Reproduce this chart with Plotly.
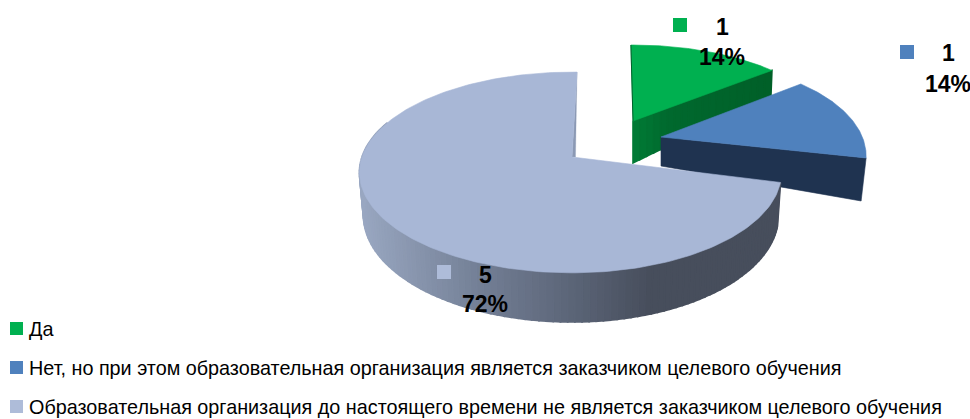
import math
import plotly.graph_objects as go

categories = ["Да",
              "Нет, но при этом образовательная организация является заказчиком целевого обучения",
              "Образовательная организация до настоящего времени не является заказчиком целевого обучения"]
values = [1, 1, 5]
percent_labels = ["14%", "14%", "72%"]

top_colors = ["#00b050", "#4f81bd", "#a8b7d6"]
FONT = "Liberation Sans, Arial, sans-serif"

# Projection of each slice's disc: apex, radii, perspective, rotation, shear
top_proj = [
    dict(ax=633, ay=121, R=197, S=87.7, k=0.154, rot=-0.7, sh=0),
    dict(ax=661, ay=137, R=199.5, S=95, k=0.233, rot=1.6, sh=-4.1),
    dict(ax=572, ay=157, R=210, Rr=207, S=98, k=0.154, rot=1.6, sh=0),
]
big_bottom = dict(ax=572, ay=199, R=206, Rr=204, S=104, k=0.154, rot=1.6, sh=0)

total = sum(values)
spans = [v / total * 360 for v in values]
starts = [sum(spans[:i]) for i in range(3)]


def project(p, theta, r=1.0):
    t = math.radians(theta + p["rot"])
    X, Y = r * math.sin(t), r * math.cos(t)
    d = 1 + p["k"] * Y
    R = p.get("Rr", p["R"]) if X > 0 else p["R"]
    return p["ax"] + R * X / d, p["ay"] - p["S"] * Y / d + p["sh"] * X / d


def arc(p, a, b, n=80):
    return [project(p, a + (b - a) * i / n) for i in range(n + 1)]


def poly(fig, pts, color, name, line=0.6):
    fig.add_trace(go.Scatter(
        x=[q[0] for q in pts] + [pts[0][0]],
        y=[q[1] for q in pts] + [pts[0][1]],
        mode="lines", fill="toself", fillcolor=color,
        line=dict(color=color, width=line),
        name=name, hoverinfo="name", showlegend=False))


def mix(stops, x):
    if x <= stops[0][0]:
        return stops[0][1]
    for (x0, c0), (x1, c1) in zip(stops, stops[1:]):
        if x <= x1:
            f = (x - x0) / (x1 - x0)
            rgb = [round(int(c0[i:i+2], 16) * (1 - f) + int(c1[i:i+2], 16) * f) for i in (1, 3, 5)]
            return "rgb(%d,%d,%d)" % tuple(rgb)
    return stops[-1][1]


fig = go.Figure()

# --- green slice ---
p = top_proj[0]
apex = (p["ax"], p["ay"])
tip = project(p, starts[0] + spans[0])
green_stops = [(633, "#007a35"), (665, "#00692e"), (772, "#005f28")]
ap_b, tip_b = (apex[0], apex[1] + 42), (tip[0] - 1, tip[1] + 25)
N = 20
for i in range(N):
    f0, f1 = i / N, (i + 1) / N
    a0 = (apex[0] + (tip[0] - apex[0]) * f0, apex[1] + (tip[1] - apex[1]) * f0)
    a1 = (apex[0] + (tip[0] - apex[0]) * f1, apex[1] + (tip[1] - apex[1]) * f1)
    b0 = (ap_b[0] + (tip_b[0] - ap_b[0]) * f0, ap_b[1] + (tip_b[1] - ap_b[1]) * f0)
    b1 = (ap_b[0] + (tip_b[0] - ap_b[0]) * f1, ap_b[1] + (tip_b[1] - ap_b[1]) * f1)
    poly(fig, [a0, a1, b1, b0], mix(green_stops, a0[0]), categories[0], line=1.6)
poly(fig, [apex] + arc(p, starts[0], starts[0] + spans[0]), top_colors[0], categories[0])
rim0 = project(p, starts[0])
fig.add_trace(go.Scatter(x=[rim0[0], apex[0]], y=[rim0[1], apex[1]], mode="lines",
                         line=dict(color="#00602a", width=1), hoverinfo="skip", showlegend=False))

# --- blue slice ---
p = top_proj[1]
apex = (p["ax"], p["ay"])
corner = project(p, starts[1] + spans[1])
poly(fig, [apex, corner, (corner[0] - 5, corner[1] + 43), (apex[0], apex[1] + 29)], "#1f3350", categories[1])
poly(fig, [apex] + arc(p, starts[1], starts[1] + spans[1]), top_colors[1], categories[1])

# --- large slice ---
p = top_proj[2]
apex = (p["ax"], p["ay"])
side_stops = [(360, "#99a7c1"), (480, "#737f95"), (560, "#5e687b"), (650, "#474e5c"), (790, "#474e5c")]
a0, a1 = starts[2], starts[2] + spans[2]
M = 110
side_end = 290
for i in range(M):
    t0 = a0 + (side_end - a0) * i / M
    t1 = a0 + (side_end - a0) * (i + 1) / M
    q0, q1 = project(p, t0), project(p, t1)
    b0, b1 = project(big_bottom, t0), project(big_bottom, t1)
    poly(fig, [q0, q1, b1, b0], mix(side_stops, (q0[0] + q1[0]) / 2), categories[2], line=1.8)
rim_end = project(p, a1)
poly(fig, [apex, rim_end, (apex[0] + 3.5, apex[1])], "#8b99b4", categories[2], line=0.3)
poly(fig, [apex] + arc(p, a0, a1, 200), top_colors[2], categories[2])

# --- labels ---
ann = []
shapes = []


def key(x, y, s, color):
    shapes.append(dict(type="rect", xref="x", yref="y", x0=x, x1=x + s, y0=y, y1=y + s,
                       fillcolor=color, line=dict(width=0), layer="above"))


def text(x, y, s, size, bold=False, anchor="center"):
    ann.append(dict(x=x, y=y, xref="x", yref="y", text="<b>%s</b>" % s if bold else s,
                    showarrow=False, xanchor=anchor, yanchor="middle",
                    font=dict(family=FONT, size=size, color="#000000")))


label_pos = [((722, 27), (722, 57), (673, 18)),
             ((948, 53), (948, 84), (900, 45)),
             ((485, 275), (485, 304), (437, 265))]
key_colors = ["#00b050", "#4f81bd", "#aebcd9"]
for i, (vp, pp, kp) in enumerate(label_pos):
    key(kp[0], kp[1], 14, key_colors[i])
    text(vp[0], vp[1], str(values[i]), 23, True)
    text(pp[0], pp[1], percent_labels[i], 23, True)

legend_y = [329, 368, 407]
for i, y in enumerate(legend_y):
    key(10, y - 7, 13, key_colors[i])
    text(27, y, categories[i], 19.8, False, "left")

fig.update_layout(
    width=970, height=419, margin=dict(l=0, r=0, t=0, b=0),
    paper_bgcolor="#ffffff", plot_bgcolor="#ffffff",
    xaxis=dict(range=[0, 970], visible=False, fixedrange=True),
    yaxis=dict(range=[419, 0], visible=False, fixedrange=True),
    showlegend=False, annotations=ann, shapes=shapes,
)
fig.write_html("out.html", config=dict(displayModeBar=False),
               default_width="970px", default_height="419px",
               post_script="document.body.style.margin='0';document.documentElement.style.overflow='hidden';")
